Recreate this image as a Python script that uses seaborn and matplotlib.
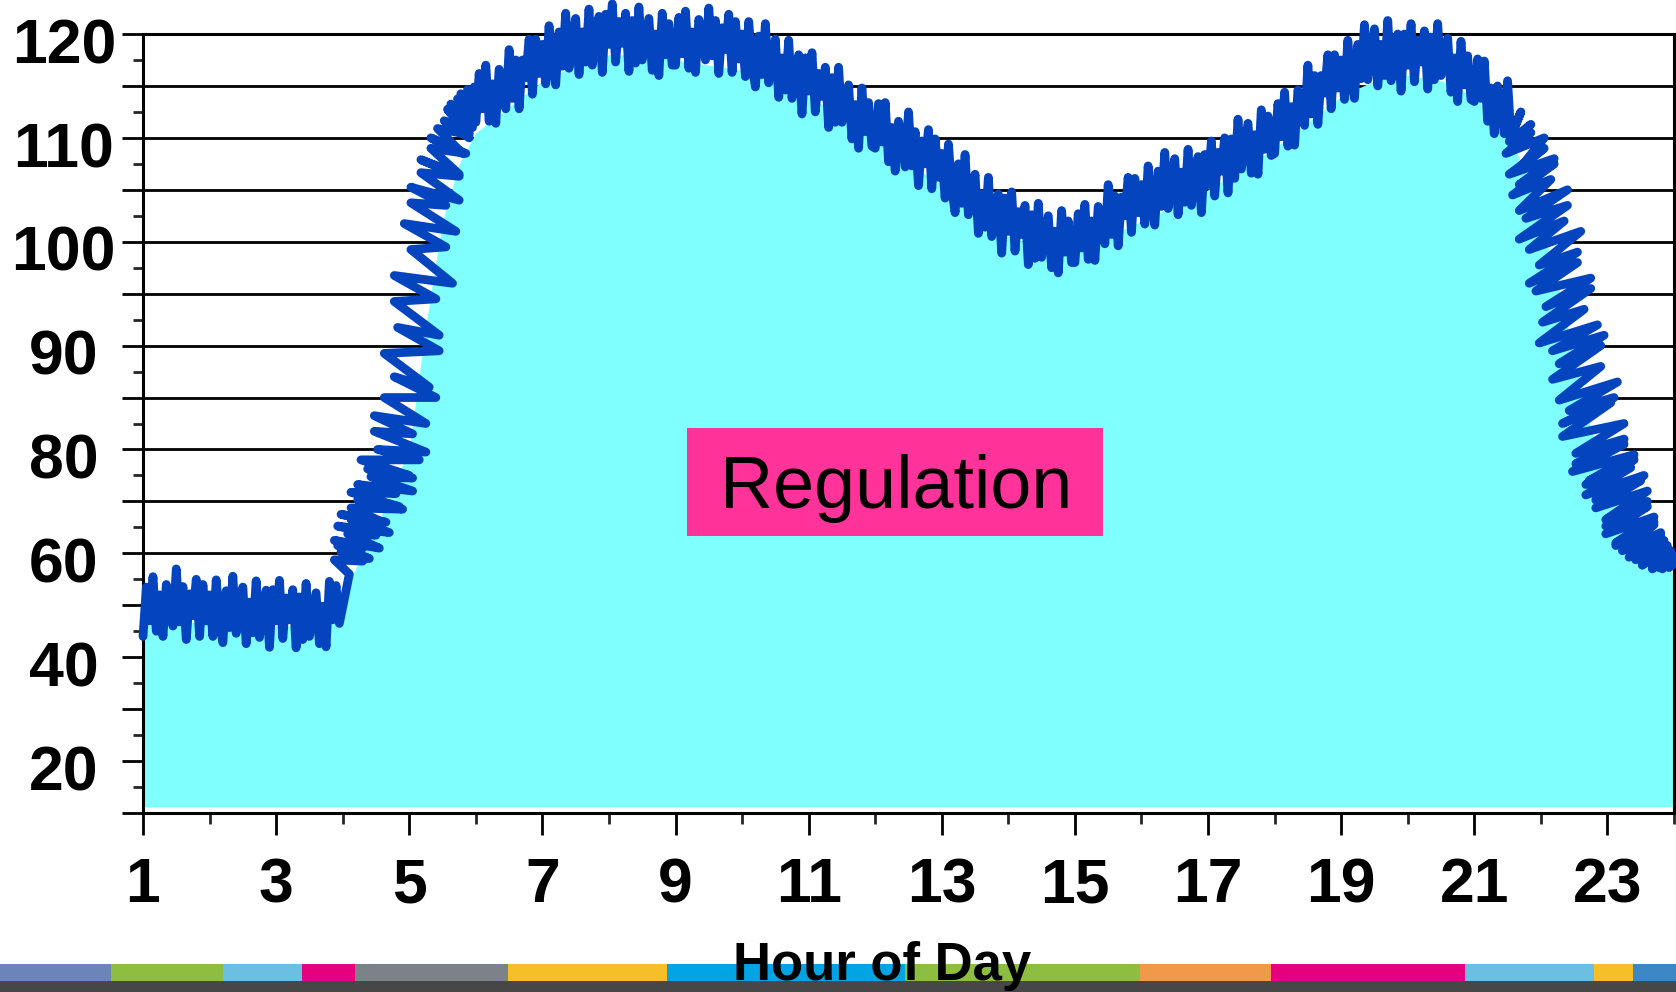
import numpy as np
import matplotlib
matplotlib.use("Agg")
import matplotlib.pyplot as plt
import matplotlib.transforms as mtransforms
import seaborn as sns
from matplotlib.patches import Rectangle
from matplotlib.ticker import FixedLocator, FixedFormatter

# ---------------- data ----------------
# night plateau, sampled every 0.05 h (1.00 .. 3.95)
night_hours = np.round(np.arange(1.0, 3.975, 0.05), 3)
night_load = [44, 53.5, 47, 55.5, 45, 52, 44, 54, 51, 46, 57, 46.8, 53.6, 43.4, 52.2, 48, 55, 44, 54, 47,
              52, 44, 54.9, 46.9, 42.8, 52.8, 45.7, 55.6, 44.6, 49.6, 53.5, 42.6, 50.6, 44.7, 54.7, 43.8, 48.8, 52.9, 41.9, 53,
              47, 54.8, 43.6, 51.4, 47.2, 53, 41.8, 51.6, 43.4, 54.2, 44, 48.2, 52.4, 42.6, 49.8, 42, 54.6, 47.2, 53.8, 46.5]

# morning ramp, sampled every 0.025 h (4.000 .. 5.975); time stamps wobble
ramp_times = np.round(np.arange(4.0, 5.99, 0.025), 3)
ramp_shift = [0.10, -0.15, 0.25, -0.10, 0.30, -0.20, 0.15, -0.30, 0.35, -0.15,
              0.25, -0.35, 0.40, -0.20, 0.30, -0.40, 0.20, -0.30, 0.45, -0.25,
              0.35, -0.40, 0.25, -0.35, 0.45, -0.20, 0.40, -0.30, 0.30, -0.45,
              0.40, -0.25, 0.45, -0.35, 0.20, -0.40, 0.35, -0.30, 0.45, -0.20,
              0.30, -0.40, 0.40, -0.25, 0.35, -0.35, 0.25, -0.40, 0.45, -0.20,
              0.30, -0.35, 0.40, -0.30, 0.20, -0.35, 0.35, -0.25, 0.30, -0.30,
              0.25, -0.20, 0.30, -0.25, 0.20, -0.20, 0.25, -0.15, 0.20, -0.15,
              0.15, -0.15, 0.15, -0.10, 0.10, -0.10, 0.10, -0.05, 0.05, 0.0]
ramp_load = [56, 58.75, 58.5, 60.25, 59, 61.5, 61, 62.5, 61, 63.75,
             63.5, 65.25, 64, 66.5, 66, 67.5, 66, 68.75, 68.5, 70.25,
             69, 71.75, 71.5, 73.25, 72, 74.75, 74.5, 76.25, 75, 78,
             78, 80, 79.5, 81.75, 81.5, 83.25, 82.5, 85, 85, 87,
             86, 89.25, 89.5, 91.75, 91, 94.25, 94.5, 96.75, 96, 99.25,
             99.5, 101.75, 101, 103.75, 103.5, 105.25, 104, 106.65, 106.3, 107.9,
             106.5, 109, 108.5, 110, 108.5, 110.9, 110.3, 111.65, 110, 112.75,
             110.5, 113.25, 111, 113.75, 111.5, 114.25, 112, 114.65, 112.3, 114.9]

# daytime, sampled every 0.05 h (6.00 .. 21.55)
day_hours = np.round(np.arange(6.0, 21.575, 0.05), 3)
day_load = [
    111.5, 116.2, 112.8, 117, 111.6, 115.2, 111.4, 116.6, 115.2, 112.8, 118.5, 113.8, 117.5, 112.8, 117.5, 115.8, 119.5, 114.2, 119.5, 116.2,
    119, 115.2, 120.8, 117, 115.1, 120.2, 116.9, 122, 116.7, 119.4, 121.5, 116.1, 120.2, 117.3, 122.4, 117, 119.6, 121.7, 116.3, 121.9,
    119, 122.9, 117.3, 121.2, 119.1, 122, 116.4, 121.3, 117.2, 122.6, 117.5, 119.5, 121.5, 116.5, 120, 116, 122, 118, 121, 117,
    117, 121.6, 118.1, 122.2, 116.7, 120.2, 116.3, 121.4, 119.9, 117.5, 122.5, 117.9, 121.3, 116.2, 120.6, 118.5, 121.9, 116.3, 121.2, 117.6,
    120, 115.9, 121.2, 117, 114.9, 119.8, 116.1, 121, 115.3, 117.7, 119.5, 113.9, 117.7, 114.6, 119.4, 113.8, 116.1, 118, 112.3, 117.7,
    114.5, 118.2, 112.5, 116.2, 114, 116.8, 111, 115.8, 111.5, 116.8, 111.5, 113.3, 115.1, 109.9, 113.2, 109, 114.8, 110.6, 113.4, 109.2,
    109, 113.3, 109.6, 113.4, 107.7, 111, 106.8, 111.6, 109.9, 107.2, 112.5, 107.3, 110.6, 105.4, 109.7, 107.5, 110.8, 105.1, 109.9, 106.2,
    108.5, 104.2, 109.4, 105.1, 102.8, 107.5, 103.7, 108.4, 102.6, 104.8, 106.5, 100.8, 104.6, 101.4, 106.2, 100.5, 102.8, 104.6, 98.9, 104.2,
    101, 104.8, 99.1, 102.9, 100.7, 103.5, 97.8, 102.6, 98.4, 103.7, 98.5, 100.5, 102.5, 97.5, 101, 97, 103, 99, 102, 98,
    98, 102.7, 99.4, 103.6, 98.3, 102, 98.2, 103.4, 102.1, 99.8, 105.5, 100.7, 104.4, 99.6, 104.3, 102.5, 106.2, 100.9, 106.1, 102.8,
    105.5, 101.7, 107.3, 103.5, 101.6, 106.8, 103.4, 108.6, 103.2, 105.9, 108, 102.6, 106.7, 103.8, 108.9, 103.5, 106.1, 108.2, 102.8, 108.4,
    105.5, 109.7, 104.4, 108.6, 106.8, 110, 104.7, 109.9, 106.1, 111.8, 107, 109.2, 111.4, 106.6, 110.3, 106.5, 112.7, 108.9, 112.1, 108.3,
    108.5, 113.3, 110.1, 114.4, 109.2, 113, 109.3, 114.6, 113.4, 111.2, 117, 112.3, 116, 111.3, 116, 114.3, 118, 112.8, 118, 114.8,
    117.5, 113.7, 119.4, 115.6, 113.8, 119, 115.7, 120.9, 115.6, 118.3, 120.5, 115, 119, 116, 121.3, 115.5, 118, 120, 114.5, 120,
    117, 121, 115.4, 119.4, 117.3, 120.3, 114.7, 119.7, 115.6, 121, 116, 117.8, 119.6, 114.4, 117.7, 113.5, 119.3, 115.1, 117.9, 113.7,
    113.5, 117.6, 113.8, 117.4, 111.6, 114.8, 110.4, 115, 113.2, 110.4, 115.5, 110.2]

# evening fall, sampled every 0.025 h (21.600 .. 24.000); time stamps wobble
fall_times = np.round(np.arange(21.6, 24.0125, 0.025), 3)
fall_shift = [0.10, -0.10, 0.20, -0.15, 0.15, -0.25, 0.30, -0.10, 0.25, -0.30,
              0.35, -0.20, 0.30, -0.35, 0.20, -0.30, 0.40, -0.25, 0.35, -0.40,
              0.25, -0.30, 0.45, -0.20, 0.35, -0.40, 0.30, -0.35, 0.45, -0.25,
              0.40, -0.35, 0.25, -0.45, 0.40, -0.30, 0.45, -0.25, 0.35, -0.40,
              0.30, -0.35, 0.50, -0.25, 0.40, -0.40, 0.30, -0.45, 0.45, -0.30,
              0.40, -0.35, 0.35, -0.45, 0.45, -0.25, 0.40, -0.35, 0.30, -0.40,
              0.45, -0.30, 0.35, -0.35, 0.40, -0.25, 0.35, -0.30, 0.30, -0.35,
              0.35, -0.25, 0.30, -0.30, 0.25, -0.25, 0.30, -0.20, 0.25, -0.25,
              0.20, -0.20, 0.20, -0.15, 0.15, -0.20, 0.15, -0.10, 0.10, -0.15,
              0.10, -0.10, 0.05, -0.10, 0.05, -0.05, 0.0]
fall_load = [112.5, 109.65, 111.3, 108.65, 110.5, 108.5, 110, 107, 109, 106.5,
             108, 105.5, 107.5, 104.5, 106, 103, 105, 102.25, 103.5, 100.25,
             102, 99.25, 101, 97.75, 99, 96, 98, 95.25, 96.5, 93.75,
             95.5, 92.25, 93.5, 90.25, 92, 89.5, 91, 88.25, 90, 86.75,
             88, 84.75, 86.5, 83.75, 85, 82.5, 84.5, 81.25, 82.5, 79.25,
             81, 77.25, 80.5, 75.75, 79, 74, 78, 73.25, 76.5, 71.25,
             75, 70.25, 74, 68.75, 72, 66.5, 70, 65.25, 69, 63.75,
             67, 62, 66, 61.5, 65.5, 60.5, 64, 59.25, 63.5, 59.25,
             63.5, 58.75, 62.5, 57.75, 62, 57.75, 61.5, 57.25, 61, 57,
             60.5, 57.25, 60, 57, 59.5, 57.25, 58]

# smooth envelope under the measured curve
fill_hours = [1.0, 1.5, 2.0, 2.5, 3.0, 3.5, 3.75, 4.0, 4.5, 5.0, 5.25, 5.5, 5.75,
              6.0, 6.5, 7.0, 7.5, 8.0, 8.5, 9.0, 9.5, 10.0, 10.5, 11.0, 11.5,
              12.0, 12.5, 13.0, 13.5, 14.0, 14.5, 15.0, 15.5, 16.0, 16.5, 17.0,
              17.5, 18.0, 18.5, 19.0, 19.5, 20.0, 20.5, 21.0, 21.5, 21.75, 22.0,
              22.25, 22.5, 22.75, 23.0, 23.25, 23.5, 23.75, 24.0]
fill_top = [46, 47, 46.5, 46.5, 46, 46, 48, 52, 65, 80, 92, 102, 107.5,
            110.5, 113, 115.5, 117, 118, 118, 117.5, 117, 116.5, 115.5, 114, 112,
            110, 107.5, 105.5, 102.5, 100.5, 99.5, 99.5, 100.5, 102, 103.5, 105,
            107, 109, 111.5, 114, 115.5, 116, 115.5, 114, 110.5, 107, 102,
            96, 89, 82, 74, 67, 62, 59, 56]
fill_base = 11.2

x_major = list(range(1, 24, 2))
x_minor = list(range(2, 25, 2))
y_major = [10, 20, 30, 40, 50, 60, 70, 80, 85, 90, 95, 100, 105, 110, 115, 120]
y_labels = ['', '20', '', '40', '', '60', '', '80', '', '90', '', '100', '', '110', '', '120']
y_minor = [15, 25, 35, 45, 55, 65, 75, 82.5, 87.5, 92.5, 97.5, 102.5, 107.5, 112.5, 117.5]

stripe_edges = [0, 111, 223, 302, 355, 508, 667, 905, 1140, 1271, 1465, 1594, 1633, 1676]
stripe_colors = ['#6C84B8', '#8DBE3F', '#6BBFE0', '#E6007E', '#7B8288', '#F5BF2A',
                 '#00A4E4', '#8DBE3F', '#EE9A48', '#E6007E', '#6BBFE0', '#F5BF2A', '#3B88C4']

assert len(night_hours) == len(night_load)
assert len(ramp_times) == len(ramp_shift) == len(ramp_load)
assert len(day_hours) == len(day_load)
assert len(fall_times) == len(fall_shift) == len(fall_load)
assert len(fill_hours) == len(fill_top)
ramp_hours = ramp_times + np.array(ramp_shift)
fall_hours = np.minimum(fall_times + np.array(fall_shift), 24.0)
line_hours = np.concatenate([night_hours, ramp_hours, day_hours, fall_hours])
line_load = np.concatenate([night_load, ramp_load, day_load, fall_load])

# ---------------- style ----------------
sns.set_style("ticks")
plt.rcParams['font.family'] = ['Liberation Sans', 'DejaVu Sans']
plt.rcParams['font.weight'] = 'bold'

fig = plt.figure(figsize=(16.76, 9.92), dpi=100)
ax = fig.add_axes([0.08532, 0.18044, 0.91348, 0.78528])
ax.set_zorder(1)

ax.fill_between(fill_hours, fill_base, fill_top, color='#80FFFF', lw=0, zorder=1)
sns.lineplot(x=line_hours, y=line_load, sort=False, estimator=None, ax=ax,
             color='#0444BF', lw=6.3, solid_capstyle='round', solid_joinstyle='round',
             clip_on=False, zorder=3)


def fwd(v):
    v = np.asarray(v, dtype=float)
    return np.where(v >= 80, v, 80 - (80 - v) / 2.0)


def inv(p):
    p = np.asarray(p, dtype=float)
    return np.where(p >= 80, p, 80 - 2.0 * (80 - p))


ax.set_yscale('function', functions=(fwd, inv))
ax.set_ylim(10, 120)
ax.set_xlim(1, 24)

ax.xaxis.set_major_locator(FixedLocator(x_major))
ax.xaxis.set_minor_locator(FixedLocator(x_minor))
ax.yaxis.set_major_locator(FixedLocator(y_major))
ax.yaxis.set_major_formatter(FixedFormatter(y_labels))
ax.yaxis.set_minor_locator(FixedLocator(y_minor))
ax.yaxis.set_minor_formatter(FixedFormatter([''] * len(y_minor)))

ax.tick_params(axis='x', which='major', length=16, width=2, direction='out',
               labelsize=45, pad=15, colors='black')
ax.tick_params(axis='x', which='minor', length=8, width=2, direction='out')
ax.tick_params(axis='y', which='major', length=15, width=2, direction='out',
               labelsize=45, pad=42, colors='black')
ax.tick_params(axis='y', which='minor', length=7, width=2, direction='out')

ax.grid(axis='y', which='major', color='black', lw=2)
ax.grid(axis='x', visible=False)
ax.set_axisbelow(True)
for side in ['left', 'bottom', 'right', 'top']:
    ax.spines[side].set_visible(True)
    ax.spines[side].set_linewidth(2.2)
    ax.spines[side].set_color('black')

ax.set_ylabel('')
ax.set_xlabel('Hour of Day', fontsize=38, fontweight='bold', color='black')
ax.xaxis.set_label_coords(0.483, -0.196)
ax.xaxis.label.set_va('center')

ax.add_patch(Rectangle((0.3553, 0.3556), 0.2717, 0.1386, transform=ax.transAxes,
                       facecolor='#FF3399', edgecolor='none', zorder=4))
ax.text(0.4918, 0.417, 'Regulation', transform=ax.transAxes, ha='center', va='center',
        fontsize=53, fontweight='normal', color='black', zorder=5)

# decorative stripe at the bottom
sax = fig.add_axes([0, 0, 1, 28 / 992])
sax.set_zorder(0)
segs = [(stripe_edges[i], stripe_edges[i + 1] - stripe_edges[i]) for i in range(len(stripe_colors))]
sax.broken_barh(segs, (11, 17), facecolors=stripe_colors, lw=0)
sax.broken_barh([(0, 1676)], (0, 11), facecolors='#474747', lw=0)
sax.set_xlim(0, 1676)
sax.set_ylim(0, 28)
sax.axis('off')

fig.canvas.draw()
shift = mtransforms.ScaledTranslation(0, -4.5 / 72, fig.dpi_scale_trans)
for lab in ax.get_xticklabels() + ax.get_yticklabels():
    lab.set_fontweight('bold')
for tick in ax.yaxis.get_major_ticks():
    tick.label1.set_ha('center')
    tick.label1.set_transform(tick.label1.get_transform() + shift)

fig.savefig('out.png', dpi=100)
